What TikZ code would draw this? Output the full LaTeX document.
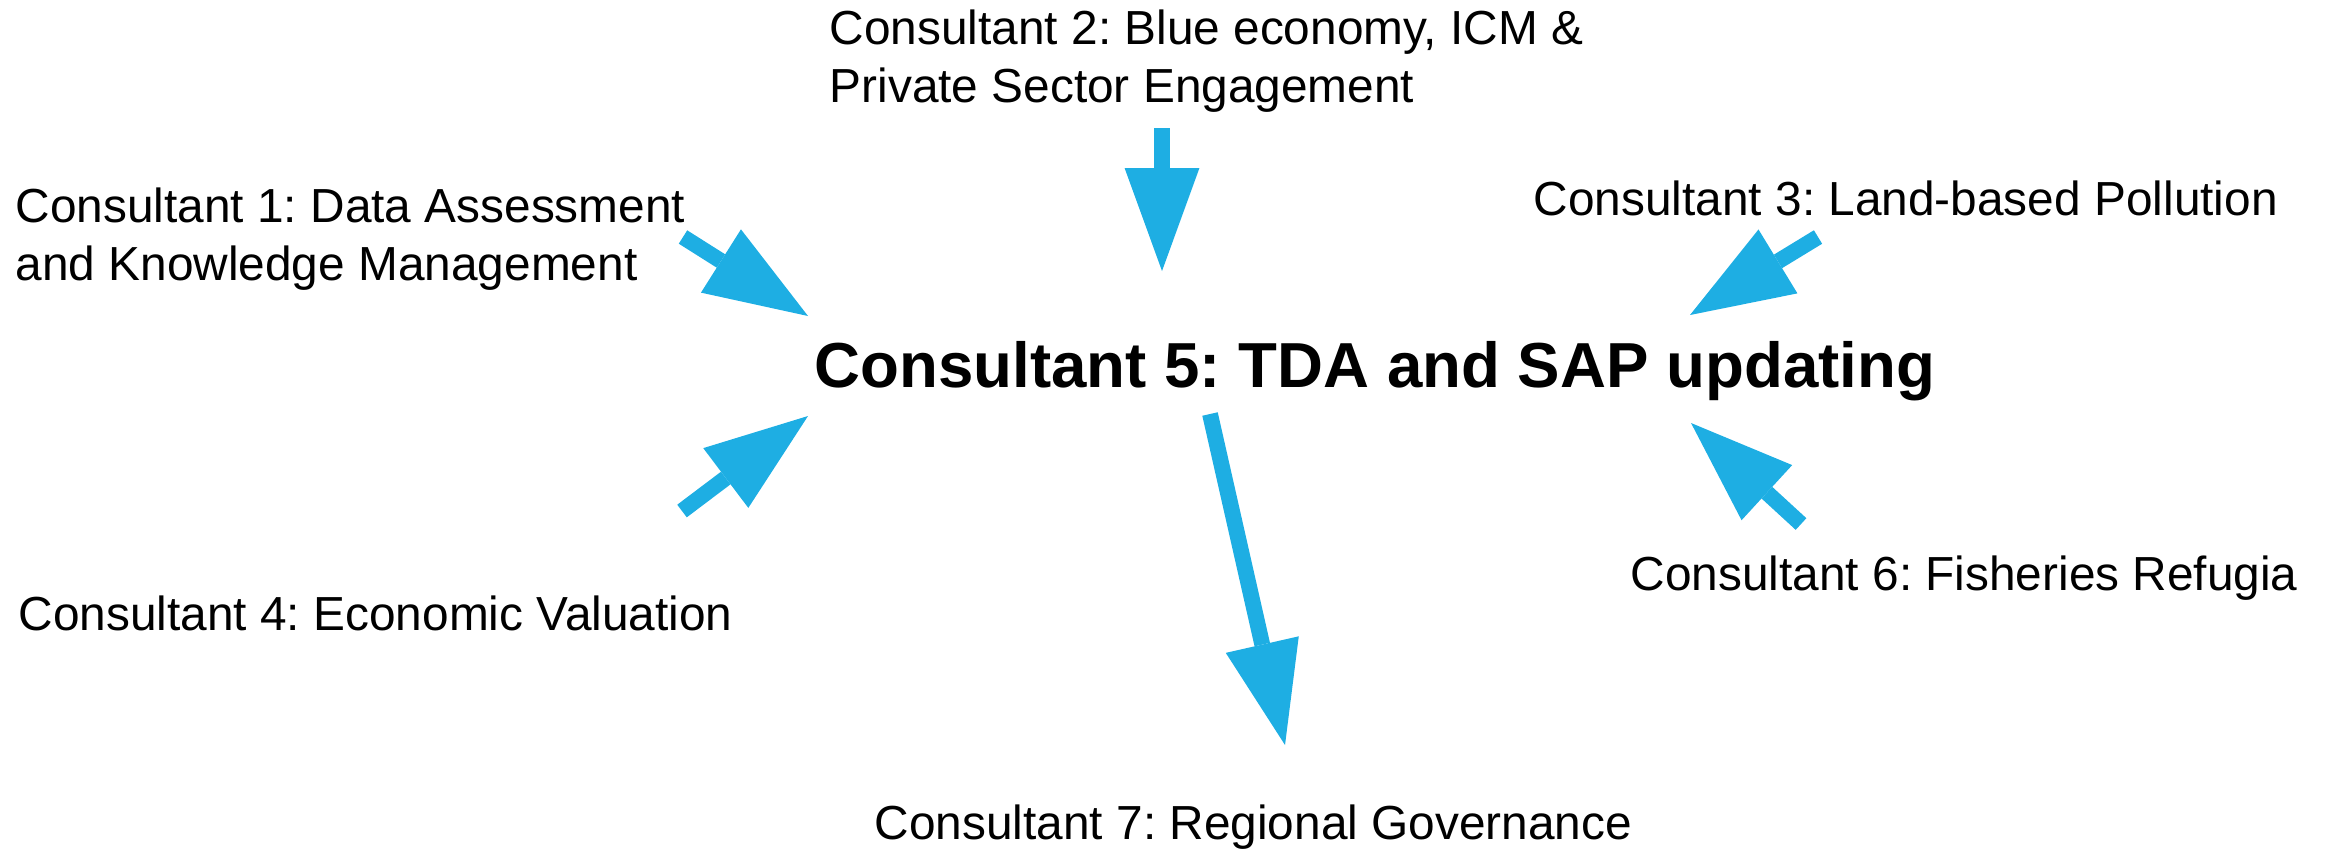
\documentclass[tikz,border=0pt]{standalone}
\usepackage{fontspec}
\setmainfont{Liberation Sans}
\usepackage{xcolor}
\usepackage{tikz}
\usetikzlibrary{arrows.meta,positioning}
\definecolor{flowblue}{RGB}{30,174,227}
\frenchspacing

\begin{document}
\begin{tikzpicture}[
  lbl/.style={anchor=base west, inner sep=0pt, align=left,
              font=\fontsize{13.6pt}{16.3pt}\selectfont},
  hub/.style={anchor=base west, inner sep=0pt,
              font=\fontsize{18.1pt}{21pt}\selectfont\bfseries},
  arrow/.style={-{Triangle[length=29.3pt,width=21.3pt,line width=0pt]},
                line width=4.5pt, flowblue}
]
\useasboundingbox (0,0) rectangle (23.25,-8.51);
\node[hub] (C5) at (8.14,-3.87) {Consultant 5: TDA and SAP updating};
\node[lbl] (C1) at (0.15,-2.80) {Consultant 1: Data Assessment\\and Knowledge Management};
\node[lbl] (C2) at (8.29,-1.02) {Consultant 2: Blue economy, ICM \&\\Private Sector Engagement};
\node[lbl] (C3) at (15.33,-2.15) {Consultant 3: Land-based Pollution};
\node[lbl] (C4) at (0.18,-6.30) {Consultant 4: Economic Valuation};
\node[lbl] (C6) at (16.30,-5.90) {Consultant 6: Fisheries Refugia};
\node[lbl] (C7) at (8.74,-8.39) {Consultant 7: Regional Governance};
% arrow ends
\coordinate (C1out) at (6.83,-2.37);  \coordinate (C1in) at (8.08,-3.16);
\coordinate (C2out) at (11.62,-1.28); \coordinate (C2in) at (11.62,-2.71);
\coordinate (C3out) at (18.18,-2.37); \coordinate (C3in) at (16.90,-3.15);
\coordinate (C4out) at (6.82,-5.11);  \coordinate (C4in) at (8.08,-4.16);
\coordinate (C6out) at (18.01,-5.24); \coordinate (C6in) at (16.91,-4.23);
\coordinate (C5out) at (12.10,-4.14); \coordinate (C7in) at (12.85,-7.45);
\draw[arrow](C1out)--(C1in); \draw[arrow](C2out)--(C2in);
\draw[arrow](C3out)--(C3in); \draw[arrow](C4out)--(C4in);
\draw[arrow](C6out)--(C6in); \draw[arrow](C5out)--(C7in);
\end{tikzpicture}
\end{document}
